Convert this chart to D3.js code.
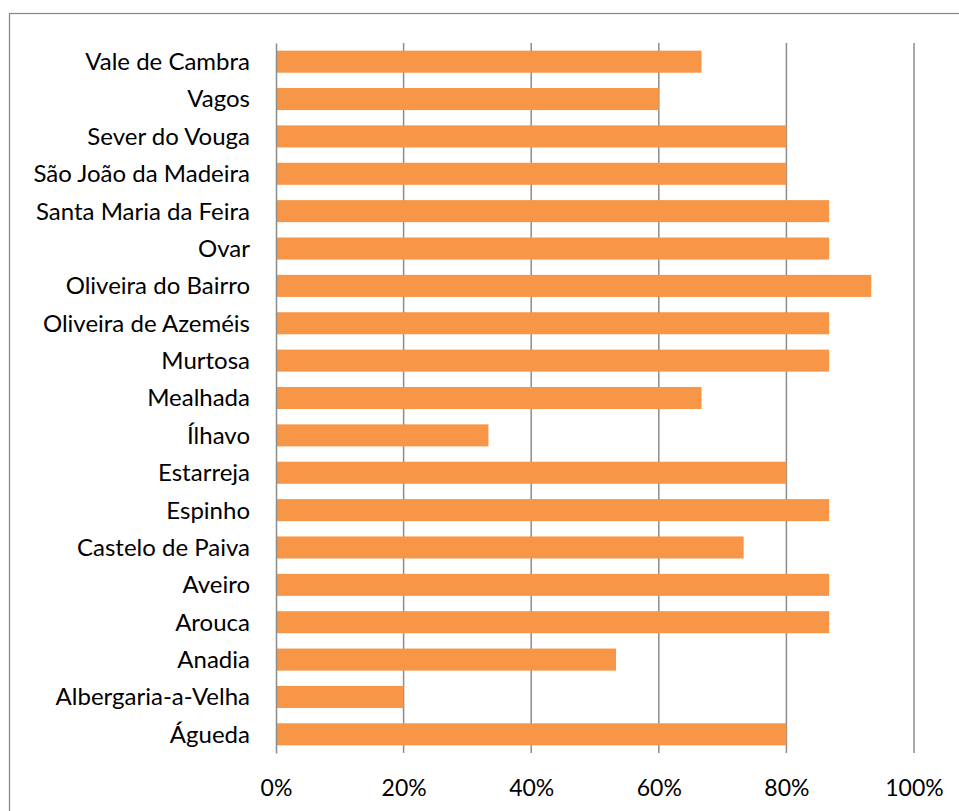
<!DOCTYPE html>
<html>
<head>
<meta charset="utf-8">
<script src="https://cdn.jsdelivr.net/npm/d3@7"></script>
<style>
  html, body { margin: 0; padding: 0; background: #fff; }
  svg { display: block; }
  text { font-family: Lato, "Open Sans", sans-serif; fill: #000; }
</style>
</head>
<body>
<svg id="chart" width="959" height="811"></svg>
<script>
// Municipalities, top to bottom
const categories = [
  "Vale de Cambra", "Vagos", "Sever do Vouga", "São João da Madeira",
  "Santa Maria da Feira", "Ovar", "Oliveira do Bairro", "Oliveira de Azeméis",
  "Murtosa", "Mealhada", "Ílhavo", "Estarreja", "Espinho", "Castelo de Paiva",
  "Aveiro", "Arouca", "Anadia", "Albergaria-a-Velha", "Águeda"
];
// Share per municipality (fraction)
const values = [
  0.667, 0.600, 0.800, 0.800,
  0.867, 0.867, 0.933, 0.867,
  0.867, 0.667, 0.333, 0.800, 0.867, 0.733,
  0.867, 0.867, 0.533, 0.200, 0.800
];
const tickValues = [0, 0.2, 0.4, 0.6, 0.8, 1.0];
const tickLabels = ["0%", "20%", "40%", "60%", "80%", "100%"];

const svg = d3.select("#chart");
const m = { left: 276, right: 914, top: 43, bottom: 753 };

// Outer chart frame (extends past the visible area on the right and bottom)
svg.append("rect")
  .attr("x", 9.5).attr("y", 13.5)
  .attr("width", 1000).attr("height", 900)
  .attr("fill", "none").attr("stroke", "#868686").attr("stroke-width", 1.25);

const x = d3.scaleLinear().domain([0, 1]).range([m.left, m.right]);
const y = d3.scaleBand().domain(categories).range([m.top, m.bottom]).paddingInner(0.41).paddingOuter(0.205);

// Vertical gridlines
svg.append("g").selectAll("line")
  .data(tickValues.slice(1))
  .join("line")
  .attr("x1", d => x(d)).attr("x2", d => x(d))
  .attr("y1", m.top).attr("y2", m.bottom)
  .attr("stroke", "#8c8c8c").attr("stroke-width", 1.5);

// Bars
svg.append("g").selectAll("rect")
  .data(categories)
  .join("rect")
  .attr("x", x(0))
  .attr("y", d => y(d))
  .attr("width", (d, i) => x(values[i]) - x(0))
  .attr("height", y.bandwidth())
  .attr("fill", "#F79646");

// Category axis
const yAxis = d3.axisLeft(y).tickSize(0).tickPadding(26);
const gy = svg.append("g").attr("transform", `translate(${m.left},0)`).call(yAxis);
gy.select(".domain").attr("stroke", "#8c8c8c").attr("stroke-width", 1.5);
gy.selectAll("text").attr("font-size", 24).attr("font-family", "Lato, sans-serif").attr("dy", "0.35em");

// Value axis labels
const xAxis = d3.axisBottom(x).tickValues(tickValues)
  .tickFormat((d, i) => tickLabels[i]).tickSize(0).tickPadding(27);
const gx = svg.append("g").attr("transform", `translate(0,${m.bottom})`).call(xAxis);
gx.select(".domain").remove();
gx.selectAll("text").attr("font-size", 23).attr("font-family", "Lato, sans-serif");
</script>
</body>
</html>
